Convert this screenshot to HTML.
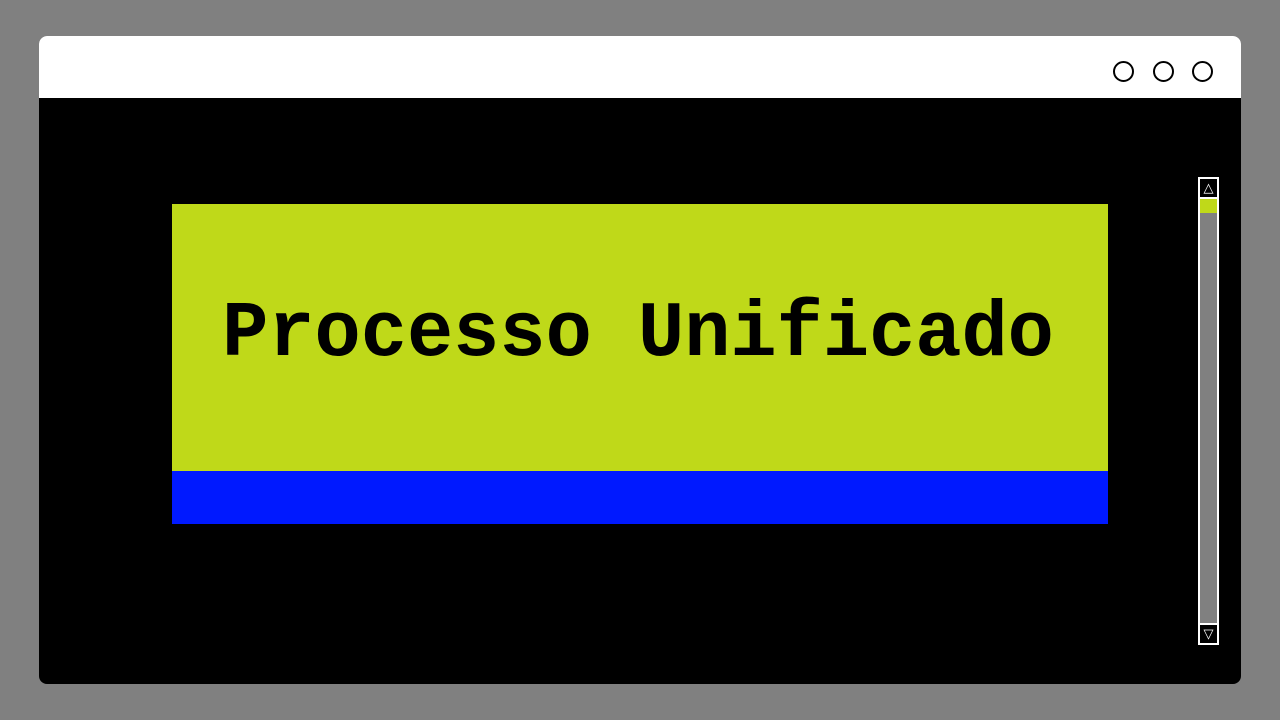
<!DOCTYPE html>
<html><head><meta charset="utf-8"><style>
html,body{margin:0;padding:0;width:1280px;height:720px;background:#808080;overflow:hidden;position:relative;font-family:"Liberation Sans",sans-serif}
.win{position:absolute;left:39px;top:36px;width:1202px;height:648px;background:#000;border-radius:8px;overflow:hidden}
.bar{position:absolute;left:0;top:0;width:100%;height:62px;background:#fff}
.c{position:absolute;top:25px;border:2px solid #000;border-radius:50%;box-sizing:border-box;width:21px;height:21px}
.lime{position:absolute;left:172px;top:204px;width:936px;height:267px;background:#bfd919}
.blue{position:absolute;left:172px;top:471px;width:936px;height:53px;background:#0019ff}
.t{position:absolute;left:170px;width:936px;top:294px;text-align:center;font-family:"Liberation Mono",monospace;font-weight:bold;font-size:77px;line-height:80px;color:#000;transform:scaleY(1.03);transform-origin:center top;white-space:pre}
.sb{position:absolute;left:1198px;top:177px;width:21px;height:468px;box-sizing:border-box;border:2px solid #fff;background:#808080}
.btn{position:absolute;left:0;width:17px;height:18px;background:#000;color:#fff;font-size:13px;line-height:18px;text-align:center}
</style></head><body>
<div class="win">
<div class="bar">
<div class="c" style="left:1074px"></div>
<div class="c" style="left:1114px"></div>
<div class="c" style="left:1153px"></div>
</div>
</div>
<div class="lime"></div>
<div class="blue"></div>
<div class="t">Processo Unificado</div>
<div class="sb">
<div class="btn" style="top:0;border-bottom:2px solid #fff">△</div>
<div style="position:absolute;left:0;top:20px;width:17px;height:14px;background:#bfd919"></div>
<div class="btn" style="bottom:0;border-top:2px solid #fff">▽</div>
</div>
</body></html>
